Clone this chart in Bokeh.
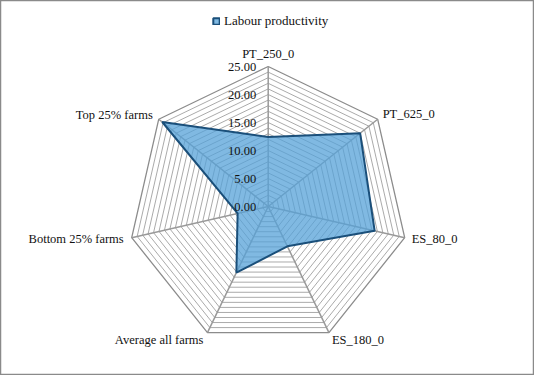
import math
from bokeh.plotting import figure
from bokeh.models import ColumnDataSource, Legend, LegendItem
from bokeh.core.properties import value
from bokeh.embed import file_html
from bokeh.resources import INLINE

categories = ["PT_250_0", "PT_625_0", "ES_80_0", "ES_180_0",
              "Average all farms", "Bottom 25% farms", "Top 25% farms"]
labour_productivity = [12.4, 21.0, 19.5, 7.9, 13.1, 5.6, 24.2]
tick_values = [0, 5, 10, 15, 20, 25]
tick_labels = ["0.00", "5.00", "10.00", "15.00", "20.00", "25.00"]
series_name = "Labour productivity"
r_max = 25

W, H = 534, 375
scale = 5.6          # px per unit
cx, cy = 267.7, 206  # centre in figure px (from top-left)

p = figure(width=W, height=H, output_backend="svg", toolbar_location=None,
           x_range=(-cx / scale, (W - cx) / scale),
           y_range=(-(H - cy) / scale, cy / scale),
           min_border=0)
p.axis.visible = False
p.grid.visible = False
p.outline_line_color = "#8a8a8a"
p.outline_line_width = 1.5
p.background_fill_color = "white"

n = len(categories)
angles = [math.pi / 2 - i * 2 * math.pi / n for i in range(n)]

def ring(r):
    xs = [r * math.cos(a) for a in angles]
    ys = [r * math.sin(a) for a in angles]
    return xs + [xs[0]], ys + [ys[0]]

px = [v * math.cos(a) for v, a in zip(labour_productivity, angles)]
py = [v * math.sin(a) for v, a in zip(labour_productivity, angles)]

# grid rings
for r in range(1, r_max + 1):
    xs, ys = ring(r)
    if r == r_max:
        p.line(xs, ys, line_color="#8c8c8c", line_width=1.3)
    else:
        p.line(xs, ys, line_color="#a0a0a0", line_width=0.9)

# spokes
for a in angles:
    p.line([0, r_max * math.cos(a)], [0, r_max * math.sin(a)],
           line_color="#999999", line_width=1.5)

patch = p.patch(px, py, fill_color="#55a2d8", fill_alpha=0.75,
                line_color="#1a4f7a", line_width=2)

# tick labels
p.text(x=[0] * len(tick_values), y=tick_values, text=tick_labels,
       text_font=value("Liberation Serif"), text_font_size="12.5px",
       text_align="right", text_baseline="middle", x_offset=-12,
       text_color="#111111")

# category labels
aligns = ["center", "left", "left", "left", "right", "right", "right"]
xoffs = [0, 5, 7, 3, -4, -8, -6]
yoffs = [-13, -5, 1, 7, 7, 1, -4]
lx = [r_max * math.cos(a) for a in angles]
ly = [r_max * math.sin(a) for a in angles]
src = ColumnDataSource(dict(x=lx, y=ly, text=categories, align=aligns,
                            xo=xoffs, yo=yoffs))
p.text(x="x", y="y", text="text", source=src, text_align="align",
       x_offset="xo", y_offset="yo", text_baseline="middle",
       text_font=value("Liberation Serif"), text_font_size="12.5px",
       text_color="#111111")

legend = Legend(items=[LegendItem(label=series_name, renderers=[patch])],
                location=(212, 346), orientation="horizontal",
                glyph_width=8, glyph_height=8, label_standoff=4,
                padding=0, margin=0, spacing=0,
                border_line_color=None, background_fill_alpha=0,
                label_text_font="Liberation Serif", label_text_font_size="13px",
                label_text_color="#111111", label_height=14)
p.add_layout(legend, "center")

open("out.html", "w").write(file_html(p, INLINE))
